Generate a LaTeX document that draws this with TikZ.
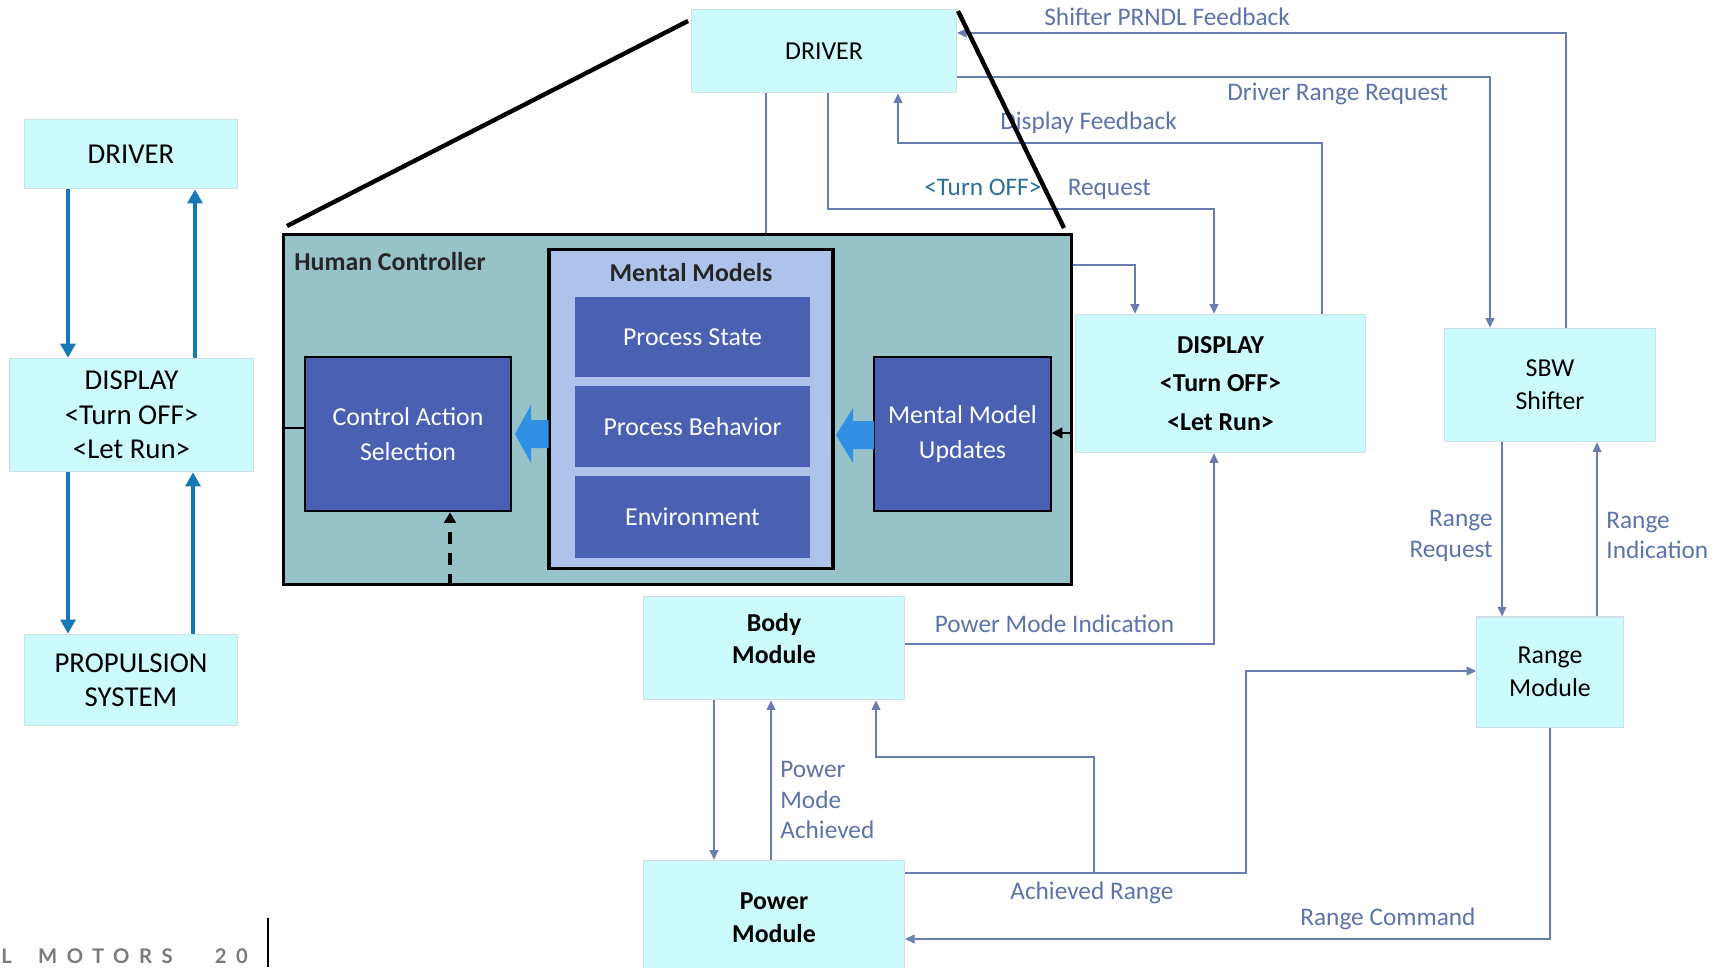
\documentclass[tikz,border=0pt]{standalone}
\usepackage{fontspec}
\setmainfont{Carlito}
\newfontfamily\footfont[LetterSpace=47]{Lato}
\usetikzlibrary{arrows.meta}
\definecolor{cyanbox}{HTML}{CCFBFD}
\definecolor{cyanedge}{HTML}{CFDFE3}
\definecolor{hcfill}{HTML}{97C3C8}
\definecolor{mmfill}{HTML}{ADC3EA}
\definecolor{dblue}{HTML}{4A60B2}
\definecolor{ablue}{HTML}{3190E4}
\definecolor{connc}{HTML}{6A7DB0}
\definecolor{lblc}{HTML}{5C74AA}
\definecolor{turnc}{HTML}{2C6F98}
\definecolor{lblue}{HTML}{1479B5}
\definecolor{footc}{HTML}{7A7A7A}
\begin{document}
\begin{tikzpicture}[x=0.02cm,y=-0.02cm,
 sz/.style 2 args={minimum width=#1*0.56693pt,minimum height=#2*0.56693pt},
 cbox/.style={draw=cyanedge,fill=cyanbox,line width=0.6pt,inner sep=0pt,align=center,text=black},
 lfont/.style={font=\fontsize{16.4}{19.6}\selectfont},
 mfont/.style={font=\fontsize{14.7}{18.7}\selectfont},
 bfont/.style={font=\bfseries\fontsize{14.7}{18.7}\selectfont},
 dbox/.style={draw=black,line width=1.2pt,fill=dblue,text=white,inner sep=0pt,align=center,font=\fontsize{14.7}{19.8}\selectfont},
 pbox/.style={fill=dblue,text=white,inner sep=0pt,align=center,font=\fontsize{14.7}{19.8}\selectfont},
 conn/.style={draw=connc,line width=0.9pt},
 carrow/.style={conn,-{Triangle[length=5.5pt,width=5pt]}},
 larrow/.style={draw=lblue,line width=1.9pt,-{Triangle[length=8pt,width=8.5pt]}},
 lbl/.style={text=lblc,inner sep=0pt,font=\fontsize{14.4}{17.5}\selectfont},
 zoomline/.style={line width=2.5pt,black}]
\useasboundingbox (0,0) rectangle (1720,967);
\clip (0,0) rectangle (1720,967);

% ---------- left column ----------
\node[cbox,lfont,sz={214}{70}] (drvL) at (131,154) {DRIVER};
\node[cbox,lfont,sz={245}{114}] (dispL) at (131.5,415) {DISPLAY\\<Turn OFF>\\<Let Run>};
\node[cbox,lfont,sz={214}{92}] (propL) at (131,680) {PROPULSION\\SYSTEM};
\draw[larrow] (68,0 |- drvL.south) -- (68,0 |- dispL.north);
\draw[larrow] (195,0 |- dispL.north) -- (195,0 |- drvL.south);
\draw[larrow] (68,0 |- dispL.south) -- (68,0 |- propL.north);
\draw[larrow] (193,0 |- propL.north) -- (193,0 |- dispL.south);

% ---------- footer ----------
\node[anchor=base west,inner sep=0pt,text=footc,font=\footfont\bfseries\fontsize{11.5}{13}\selectfont] (foot) at (1,963) {L\hspace{15pt}MOTORS\hspace{24pt}20};
\draw[black,line width=1.1pt] (268,918) -- (268,967);

% ---------- main boxes ----------
\node[cbox,mfont,sz={266}{84}] (drv) at (824,51) {DRIVER};
\node[cbox,bfont,font=\bfseries\fontsize{14.7}{22.1}\selectfont,sz={291}{139}] (disp) at (1220.5,383.5) {DISPLAY\\<Turn OFF>\\<Let Run>};
\node[cbox,mfont,sz={212.5}{114}] (sbw) at (1550,385) {SBW\\Shifter};
\node[cbox,mfont,sz={147}{110.5}] (rng) at (1550,672) {Range\\Module};
\node[cbox,sz={262}{104}] (body) at (774,648) {};
\node[bfont,align=center,inner sep=0pt] (bodyt) at (774,638.5) {Body\\Module};
\node[cbox,bfont,sz={262}{116}] (pwr) at (774,918) {Power\\Module};

% ---------- human controller ----------
\node[draw=black,line width=2pt,fill=hcfill,sz={791}{351}] (hc) at (677.5,409.5) {};
\node[anchor=west,inner sep=0pt,bfont,text=black!85] (hct) at (294,262) {Human Controller};
\node[draw=black,line width=1.9pt,fill=mmfill,sz={285}{320}] (mm) at (691,409) {};
\node[bfont,inner sep=0pt,text=black!85] (mmt) at (691,273) {Mental Models};
\node[pbox,sz={235}{80}] (ps) at (692.5,337) {Process State};
\node[pbox,sz={235}{81}] (pb) at (692.5,426.5) {Process Behavior};
\node[pbox,sz={235}{82}] (env) at (692.5,517) {Environment};
\node[dbox,sz={206}{155}] (cas) at (408,434) {Control Action\\Selection};
\node[dbox,sz={177}{155}] (mmu) at (962.5,434) {Mental Model\\Updates};
\fill[ablue] (548.5,420) -- (531,420) -- (531,405) -- (515,434) -- (531,463) -- (531,448) -- (548.5,448) -- cycle;
\fill[ablue] (874,421) -- (853,421) -- (853,408) -- (836,435) -- (853,463) -- (853,449) -- (874,449) -- cycle;
\draw[black,line width=2pt,dash pattern=on 7pt off 5pt,-{Triangle[length=6pt,width=6.5pt]}] (450,0 |- hc.south) -- (450,0 |- cas.south);
\draw[black,line width=1.3pt] (hc.west |- 0,428) -- (cas.west |- 0,428);
\draw[black,line width=1.3pt,-{Triangle[length=6pt,width=6pt]}] (hc.east |- 0,433) -- (mmu.east |- 0,433);

% ---------- connectors ----------
\draw[conn] (766,0 |- drv.south) -- (766,0 |- hc.north);
\draw[carrow] (828,0 |- drv.south) |- (1214,209) -- (1214,0 |- disp.north);
\draw[carrow] (1322,0 |- disp.north) |- (898,143) -- (898,0 |- drv.south);
\draw[carrow] (drv.east |- 0,77) -| (1490,0 |- sbw.north);
\draw[carrow] (1566,0 |- sbw.north) |- (drv.east |- 0,33);
\draw[carrow] (hc.east |- 0,265) -| (1135,0 |- disp.north);
\draw[carrow] (1502,0 |- sbw.south) -- (1502,0 |- rng.north);
\draw[carrow] (1597,0 |- rng.north) -- (1597,0 |- sbw.south);
\draw[carrow] (body.east |- 0,644) -| (1214,0 |- disp.south);
\draw[carrow] (714,0 |- body.south) -- (714,0 |- pwr.north);
\draw[carrow] (771,0 |- pwr.north) -- (771,0 |- body.south);
\draw[carrow] (pwr.east |- 0,873) -| (1246,671) -- (rng.west |- 0,671);
\coordinate (br) at (1094,873);
\draw[carrow] (br) |- (876,757) -- (876,0 |- body.south);
\draw[carrow] (1550,0 |- rng.south) |- (pwr.east |- 0,939);

% ---------- labels ----------
\node[lbl,anchor=west] (l1) at (1044,17) {Shifter PRNDL Feedback};
\node[lbl,anchor=west] (l2) at (1227,94) {Driver Range Request};
\node[lbl,anchor=west] (l3) at (1000,123) {Display Feedback};
\node[lbl,anchor=west] (l4) at (924,189) {{\color{turnc}<Turn OFF>}\hspace{15pt}Request};
\node[lbl,anchor=west] (l5) at (934.5,624) {Power Mode Indication};
\node[lbl,anchor=west] (l6) at (1010,893) {Achieved Range};
\node[lbl,anchor=west] (l7) at (1300,919) {Range Command};
\node[lbl,anchor=west,align=left,font=\fontsize{14.4}{17.3}\selectfont] (l8) at (780,800) {Power\\Mode\\Achieved};
\node[lbl,anchor=east,align=right,font=\fontsize{14.4}{17.6}\selectfont] (l9) at (1493,535.5) {Range\\Request};
\node[lbl,anchor=west,align=left,font=\fontsize{14.4}{17.6}\selectfont] (l10) at (1606,535.5) {Range\\Indication};

% ---------- zoom lines ----------
\coordinate (z1a) at (688,21);
\coordinate (z1b) at (287,226);
\coordinate (z2a) at (958,11);
\coordinate (z2b) at (1064,228);
\draw[zoomline] (z1a) -- (z1b);
\draw[zoomline] (z2a) -- (z2b);
\end{tikzpicture}
\end{document}
